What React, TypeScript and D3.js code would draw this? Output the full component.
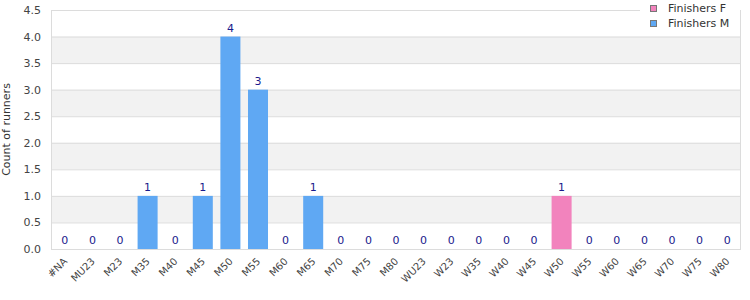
import React from "react";
import * as d3 from "d3";

const categories = ["#NA","MU23","M23","M35","M40","M45","M50","M55","M60","M65","M70","M75","M80","WU23","W23","W35","W40","W45","W50","W55","W60","W65","W70","W75","W80"];
const finishersF = [0,0,0,0,0,0,0,0,0,0,0,0,0,0,0,0,0,0,1,0,0,0,0,0,0];
const finishersM = [0,0,0,1,0,1,4,3,0,1,0,0,0,0,0,0,0,0,0,0,0,0,0,0,0];
const yTicks = [0,0.5,1,1.5,2,2.5,3,3.5,4,4.5];
const seriesNames = ["Finishers F","Finishers M"];
const seriesColors = ["#f283bd","#5fa8f3"];

export default function App() {
  const W = 750, H = 300;
  const m = { l: 51, r: 9, t: 10, b: 51 };
  const x = d3.scaleBand<string>().domain(categories).range([m.l, W - m.r]).paddingInner(0.275).paddingOuter(0.1375);
  const y = d3.scaleLinear().domain([0, 4.5]).range([H - m.b, m.t]);
  const font = "DejaVu Sans, Verdana, sans-serif";
  const totals = categories.map((_, i) => finishersF[i] + finishersM[i]);
  return (
    <svg width={W} height={H} style={{ position: "absolute", left: 0, top: 0, fontFamily: font }}>
      <rect x={0} y={0} width={W} height={H} fill="#fff" />
      {yTicks.slice(0, -1).map((t, i) => i % 2 === 1 ? (
        <rect key={"b" + t} x={m.l} y={y(t + 0.5)} width={W - m.r - m.l} height={y(t) - y(t + 0.5)} fill="#f2f2f2" />
      ) : null)}
      {yTicks.map(t => (
        <line key={"g" + t} x1={m.l} x2={W - m.r} y1={y(t) + 0.5} y2={y(t) + 0.5} stroke="#dcdcdc" />
      ))}
      <rect x={m.l + 0.5} y={m.t + 0.5} width={W - m.r - m.l - 1} height={H - m.b - m.t} fill="none" stroke="#dcdcdc" />
      {yTicks.map(t => (
        <text key={"t" + t} x={m.l - 10} y={y(t) + 4} textAnchor="end" fontSize={11} fill="#444">{t.toFixed(1)}</text>
      ))}
      <text transform={`translate(10,${(m.t + H - m.b) / 2}) rotate(-90)`} textAnchor="middle" fontSize={11} fill="#333">Count of runners</text>
      {categories.map((c, i) => (
        <g key={c}>
          {finishersM[i] > 0 && <rect x={x(c)} y={y(finishersM[i])} width={x.bandwidth()} height={y(0) - y(finishersM[i])} fill={seriesColors[1]} />}
          {finishersF[i] > 0 && <rect x={x(c)} y={y(finishersM[i] + finishersF[i])} width={x.bandwidth()} height={y(0) - y(finishersF[i])} fill={seriesColors[0]} />}
          <text x={(x(c) as number) + x.bandwidth() / 2} y={y(totals[i]) - 5} textAnchor="middle" fontSize={11} fill="#1a1a8c">{totals[i]}</text>
          <text transform={`translate(${(x(c) as number) + x.bandwidth() / 2 + 3},${H - m.b + 13}) rotate(-45)`} textAnchor="end" fontSize={10} fill="#444">{c}</text>
        </g>
      ))}
      <rect x={640} y={0} width={100} height={32} fill="#fff" />
      {seriesNames.map((s, i) => (
        <g key={s}>
          <rect x={650.5} y={5.5 + i * 15} width={6} height={6} fill={seriesColors[i]} stroke="#777" />
          <text x={668} y={12 + i * 15} fontSize={11} fill="#333">{s}</text>
        </g>
      ))}
    </svg>
  );
}
